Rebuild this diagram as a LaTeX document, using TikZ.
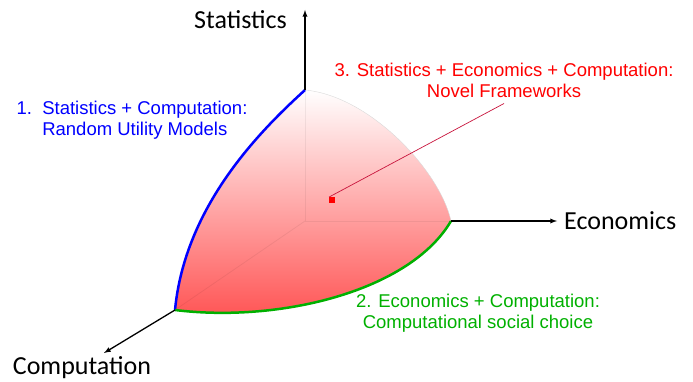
\documentclass[tikz,border=0pt]{standalone}
\usepackage{fontspec}
\setmainfont{Liberation Sans}
\newfontfamily\axisfont{Carlito}
\usetikzlibrary{positioning}

\definecolor{stblue}{RGB}{0,0,255}
\definecolor{ecgreen}{RGB}{0,176,0}
\definecolor{allred}{RGB}{255,0,0}
\definecolor{leaderred}{RGB}{200,20,60}
\definecolor{capred}{RGB}{255,80,80}
\definecolor{midred}{RGB}{253,172,172}

\begin{document}
\begin{tikzpicture}[x=1pt, y=1pt,
    axis/.style={draw=black, line width=1.3pt, -latex},
    axislabel/.style={font=\axisfont\fontsize{26}{30}\selectfont, inner sep=0pt},
    area/.style={font=\fontsize{18.5}{21}\selectfont, align=center, inner sep=0pt},
    ghost/.style={draw=black, opacity=0.06, line width=0.8pt}]
\useasboundingbox (0,0) rectangle (693,381);

% Corners of the curved patch
\coordinate (O) at (305,160);
\coordinate (S) at (305,291);
\coordinate (E) at (451,160);
\coordinate (C) at (175,71);

% Shaded patch
\shade[top color=white, middle color=midred, bottom color=capred]
    (S) .. controls (370,285) and (440,210) .. (E)
        .. controls (410,90) and (280,58) .. (C)
        .. controls (185,175) and (260,250) .. (S) -- cycle;

% Hidden axes behind the patch
\foreach \c in {S,E,C} {
    \draw[ghost] (O) -- (\c);
}

% Edges of the patch
\draw[black!15, line width=0.4pt] (S) .. controls (370,285) and (440,210) .. (E);
\draw[stblue, line width=2.5pt] (S) .. controls (260,250) and (185,175) .. (C);
\draw[ecgreen, line width=2.5pt] (C) .. controls (280,58) and (410,90) .. (E);

% Axes
\coordinate (statTip) at (305,371);
\coordinate (econTip) at (557,160);
\coordinate (compTip) at (104,28);
\draw[axis] (S) -- (statTip);
\draw[axis] (E) -- (econTip);
\draw[axis] (C) -- (compTip);

% Axis labels
\node[axislabel, anchor=east] (stat) at (287,361) {Statistics};
\node[axislabel, right=7pt of econTip] (econ) {Economics};
\node[axislabel] (comp) at (82,13) {Computation};

% Area labels
\node[area, text=stblue] (stcomp) at (132,260)
    {\begin{tabular}{@{}l@{~~}l@{}}1.&Statistics + Computation:\\&Random Utility Models\end{tabular}};
\node[area, text=ecgreen] (eccomp) at (478,68)
    {2. Economics + Computation:\\Computational social choice};
\node[area, text=allred] (all) at (504,301)
    {3. Statistics + Economics + Computation:\\Novel Frameworks};

% Marker inside the patch
\node[fill=allred, minimum size=5.5pt, inner sep=0pt] (dot) at (332,181) {};
\draw[leaderred, line width=0.7pt] ([yshift=-6pt]all.south) -- (dot.north west);
\end{tikzpicture}
\end{document}
